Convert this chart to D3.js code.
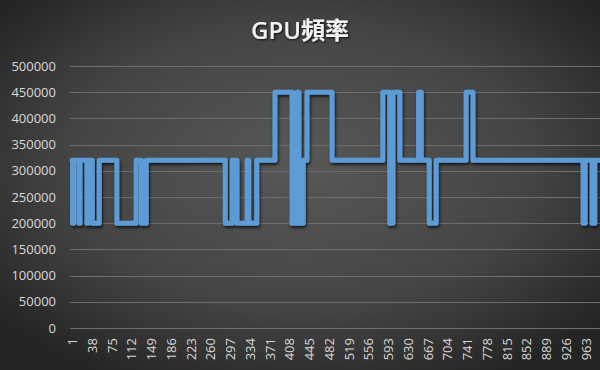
<!DOCTYPE html>
<html><head><meta charset="utf-8">
<script src="https://cdn.jsdelivr.net/npm/d3@7"></script>
<style>
html,body{margin:0;padding:0;background:#333;}
svg{display:block;}
</style></head>
<body>
<svg id="c" width="600" height="370"></svg>
<script>
// Sample index where the frequency changes, and the new frequency value
const changeSample = [1, 2, 4, 14, 16, 29, 31, 39, 52, 85, 121, 131, 140,
  288, 301, 310, 329, 332, 347, 381, 413, 422, 426, 434, 441, 488,
  583, 596, 602, 615, 650, 655, 670, 683, 739, 752, 958, 962, 975, 980, 999];
const changeValue = [320000, 200000, 320000, 200000, 320000, 200000, 320000, 200000, 320000, 200000, 320000, 200000, 320000,
  200000, 320000, 200000, 320000, 200000, 320000, 450000, 200000, 450000, 200000, 320000, 450000, 320000,
  450000, 200000, 450000, 320000, 450000, 320000, 200000, 320000, 450000, 320000, 200000, 320000, 200000, 320000, 320000];
const yTicks = [0, 50000, 100000, 150000, 200000, 250000, 300000, 350000, 400000, 450000, 500000];
const xTickLabels = [1, 38, 75, 112, 149, 186, 223, 260, 297, 334, 371, 408, 445, 482, 519, 556, 593, 630, 667, 704, 741, 778, 815, 852, 889, 926, 963];
const title = "GPU頻率";

const svg = d3.select("#c");
const W = 600, H = 370;
const defs = svg.append("defs");
const rg = defs.append("radialGradient").attr("id","bg").attr("cx","50%").attr("cy","45%").attr("r","65%");
rg.append("stop").attr("offset","0%").attr("stop-color","#585858");
rg.append("stop").attr("offset","60%").attr("stop-color","#444444");
rg.append("stop").attr("offset","100%").attr("stop-color","#242424");
const f = defs.append("filter").attr("id","sh").attr("x","-5%").attr("y","-5%").attr("width","110%").attr("height","115%");
f.append("feDropShadow").attr("dx",1).attr("dy",2).attr("stdDeviation",1.5).attr("flood-color","#000").attr("flood-opacity",0.75);
const ft = defs.append("filter").attr("id","tsh");
ft.append("feDropShadow").attr("dx",1).attr("dy",1).attr("stdDeviation",1).attr("flood-color","#000").attr("flood-opacity",0.8);

svg.append("rect").attr("width",W).attr("height",H).attr("fill","url(#bg)");

const x = d3.scaleLinear().domain([1, 999]).range([72, 72 + 998*0.534]);
const y = d3.scaleLinear().domain([0, 500000]).range([328, 66]);

// gridlines
svg.append("g").selectAll("line").data(yTicks).join("line")
  .attr("x1",70).attr("x2",600)
  .attr("y1",d=>Math.round(y(d))+0.5).attr("y2",d=>Math.round(y(d))+0.5)
  .attr("stroke","#6e6e6e").attr("stroke-width",1);

// y axis labels
const yAxis = d3.axisLeft(y).tickValues(yTicks).tickSize(0).tickPadding(0).tickFormat(d3.format("d"));
const gy = svg.append("g").attr("transform","translate(56,0)").call(yAxis);
gy.select(".domain").remove();
gy.selectAll("text").attr("fill","#d9d9d9").style("font-family","'Open Sans', 'Noto Sans', sans-serif").style("font-size","13px");

// x axis labels
const xAxis = d3.axisBottom(x).tickValues(xTickLabels).tickSize(0).tickPadding(0).tickFormat(d=>String(d));
const gx = svg.append("g").attr("transform","translate(0,338)").call(xAxis);
gx.select(".domain").remove();
gx.selectAll("text")
  .attr("fill","#d9d9d9").style("font-family","'Open Sans', 'Noto Sans', sans-serif").style("font-size","13px")
  .attr("text-anchor","end").attr("dy","0.35em").attr("y",0).attr("x",0)
  .attr("transform","rotate(-90)");

// line
const pts = changeSample.map((s,i)=>[s, changeValue[i]]);
const line = d3.line().x(d=>x(d[0])).y(d=>y(d[1])).curve(d3.curveStepAfter);
svg.append("path").datum(pts).attr("d",line)
  .attr("fill","none").attr("stroke","#5b9bd5").attr("stroke-width",5)
  .attr("stroke-linejoin","round").attr("stroke-linecap","round")
  .attr("filter","url(#sh)");

// title
svg.append("text").attr("x",300).attr("y",39).attr("text-anchor","middle")
  .attr("fill","#f2f2f2").attr("filter","url(#tsh)")
  .style("font-family","'Open Sans', 'Noto Sans CJK TC', sans-serif").style("font-size","24px").style("font-weight","600")
  .text(title);
</script>
</body></html>
